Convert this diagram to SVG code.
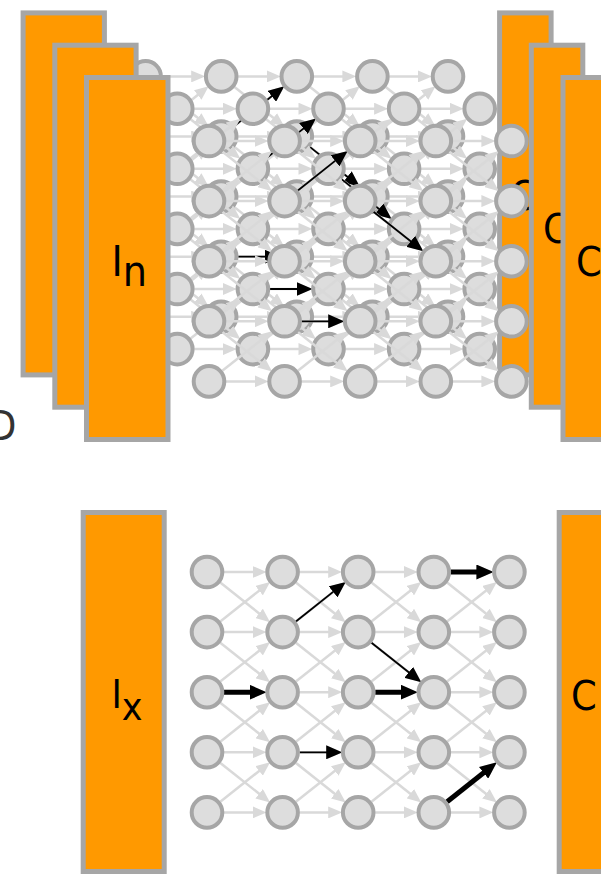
<svg xmlns="http://www.w3.org/2000/svg" width="601" height="874" viewBox="0 0 601 874">
<style>
.blk{fill:#ff9900;stroke:#a6a6a6;stroke-width:5}
.n circle{fill:#dddddd;stroke:#a6a6a6;stroke-width:4}
.t1{stroke:#000;stroke-width:1.8;marker-end:url(#mk);fill:none}
.t2{stroke:#000;stroke-width:5;marker-end:url(#mk2);fill:none}
.lbl{font-family:"DejaVu Sans","Liberation Sans",sans-serif;font-stretch:condensed;fill:#000}
</style>
<defs>
<marker id="mg" markerUnits="userSpaceOnUse" markerWidth="14" markerHeight="12" refX="8" refY="6" orient="auto"><path d="M0,0L14,6L0,12z" fill="#d9d9d9"/></marker>
<marker id="mk" markerUnits="userSpaceOnUse" markerWidth="16" markerHeight="14" refX="8" refY="7" orient="auto"><path d="M0,0L16,7L0,14z" fill="#000"/></marker>
<marker id="mk2" markerUnits="userSpaceOnUse" markerWidth="17" markerHeight="15" refX="9" refY="7.5" orient="auto"><path d="M0,0L17,7.5L0,15z" fill="#000"/></marker>
<g id="ce" stroke="#d9d9d9" stroke-width="2.5" marker-end="url(#mg)">
<line x1="17" y1="0" x2="53.6" y2="0"/>
<line x1="17" y1="60.1" x2="53.6" y2="60.1"/>
<line x1="17" y1="120.2" x2="53.6" y2="120.2"/>
<line x1="17" y1="180.3" x2="53.6" y2="180.3"/>
<line x1="17" y1="240.4" x2="53.6" y2="240.4"/>
<line x1="13.3" y1="10.6" x2="58.4" y2="46.4"/>
<line x1="13.3" y1="70.7" x2="58.4" y2="106.5"/>
<line x1="13.3" y1="130.8" x2="58.4" y2="166.6"/>
<line x1="13.3" y1="190.9" x2="58.4" y2="226.7"/>
<line x1="13.3" y1="49.5" x2="58.4" y2="13.7"/>
<line x1="13.3" y1="109.6" x2="58.4" y2="73.8"/>
<line x1="13.3" y1="169.7" x2="58.4" y2="133.9"/>
<line x1="13.3" y1="229.8" x2="58.4" y2="194"/>
</g>
<g id="le">
<use href="#ce"/>
<use href="#ce" x="75.6"/>
<use href="#ce" x="151.2"/>
<use href="#ce" x="226.8"/>
</g>
</defs>

<text class="lbl" x="-12" y="440" font-size="41" style="fill:#333">D</text>

<!-- back layer -->
<g id="layer-back">
<rect id="back-in" class="blk" x="23.1" y="12.9" width="81.3" height="362"/>
<g id="back-out"><rect class="blk" x="499.6" y="12.9" width="51.5" height="362"/><text class="lbl" x="510" y="210" font-size="41">C</text></g>
<g transform="translate(145.6,76.4)">
<use href="#le"/>
<g id="back-connectors">
<line class="t1" x1="88.9" y1="49.5" x2="132.4" y2="14.9"/>
<line class="t1" x1="92.6" y1="180.3" x2="127.2" y2="180.3"/>
<line class="t1" x1="164.5" y1="70.7" x2="208" y2="105.3"/>
</g>
<g class="n">
<g id="k00"><circle cx="0" cy="0" r="15.3"/></g><g id="k01"><circle cx="0" cy="60.1" r="15.3"/></g><g id="k02"><circle cx="0" cy="120.2" r="15.3"/></g><g id="k03"><circle cx="0" cy="180.3" r="15.3"/></g><g id="k04"><circle cx="0" cy="240.4" r="15.3"/></g>
<g id="k10"><circle cx="75.6" cy="0" r="15.3"/></g><g id="k11"><circle cx="75.6" cy="60.1" r="15.3"/></g><g id="k12"><circle cx="75.6" cy="120.2" r="15.3"/></g><g id="k13"><circle cx="75.6" cy="180.3" r="15.3"/></g><g id="k14"><circle cx="75.6" cy="240.4" r="15.3"/></g>
<g id="k20"><circle cx="151.2" cy="0" r="15.3"/></g><g id="k21"><circle cx="151.2" cy="60.1" r="15.3"/></g><g id="k22"><circle cx="151.2" cy="120.2" r="15.3"/></g><g id="k23"><circle cx="151.2" cy="180.3" r="15.3"/></g><g id="k24"><circle cx="151.2" cy="240.4" r="15.3"/></g>
<g id="k30"><circle cx="226.8" cy="0" r="15.3"/></g><g id="k31"><circle cx="226.8" cy="60.1" r="15.3"/></g><g id="k32"><circle cx="226.8" cy="120.2" r="15.3"/></g><g id="k33"><circle cx="226.8" cy="180.3" r="15.3"/></g><g id="k34"><circle cx="226.8" cy="240.4" r="15.3"/></g>
<g id="k40"><circle cx="302.4" cy="0" r="15.3"/></g><g id="k41"><circle cx="302.4" cy="60.1" r="15.3"/></g><g id="k42"><circle cx="302.4" cy="120.2" r="15.3"/></g><g id="k43"><circle cx="302.4" cy="180.3" r="15.3"/></g><g id="k44"><circle cx="302.4" cy="240.4" r="15.3"/></g>
</g>
</g>
</g>

<!-- middle layer -->
<g id="layer-middle">
<rect id="mid-in" class="blk" x="54.8" y="45.2" width="81.3" height="362"/>
<g id="mid-out"><rect class="blk" x="531.3" y="45.2" width="51.5" height="362"/><text class="lbl" x="543" y="243" font-size="41">C</text></g>
<g transform="translate(177.3,108.7)">
<use href="#le"/>
<g id="mid-connectors">
<line class="t1" x1="88.9" y1="49.5" x2="132.4" y2="14.9"/>
<line class="t1" x1="92.6" y1="180.3" x2="127.2" y2="180.3"/>
<line class="t1" x1="164.5" y1="70.7" x2="208" y2="105.3"/>
</g>
<g class="n">
<g id="m00"><circle cx="0" cy="0" r="15.3"/></g><g id="m01"><circle cx="0" cy="60.1" r="15.3"/></g><g id="m02"><circle cx="0" cy="120.2" r="15.3"/></g><g id="m03"><circle cx="0" cy="180.3" r="15.3"/></g><g id="m04"><circle cx="0" cy="240.4" r="15.3"/></g>
<g id="m10"><circle cx="75.6" cy="0" r="15.3"/></g><g id="m11"><circle cx="75.6" cy="60.1" r="15.3"/></g><g id="m12"><circle cx="75.6" cy="120.2" r="15.3"/></g><g id="m13"><circle cx="75.6" cy="180.3" r="15.3"/></g><g id="m14"><circle cx="75.6" cy="240.4" r="15.3"/></g>
<g id="m20"><circle cx="151.2" cy="0" r="15.3"/></g><g id="m21"><circle cx="151.2" cy="60.1" r="15.3"/></g><g id="m22"><circle cx="151.2" cy="120.2" r="15.3"/></g><g id="m23"><circle cx="151.2" cy="180.3" r="15.3"/></g><g id="m24"><circle cx="151.2" cy="240.4" r="15.3"/></g>
<g id="m30"><circle cx="226.8" cy="0" r="15.3"/></g><g id="m31"><circle cx="226.8" cy="60.1" r="15.3"/></g><g id="m32"><circle cx="226.8" cy="120.2" r="15.3"/></g><g id="m33"><circle cx="226.8" cy="180.3" r="15.3"/></g><g id="m34"><circle cx="226.8" cy="240.4" r="15.3"/></g>
<g id="m40"><circle cx="302.4" cy="0" r="15.3"/></g><g id="m41"><circle cx="302.4" cy="60.1" r="15.3"/></g><g id="m42"><circle cx="302.4" cy="120.2" r="15.3"/></g><g id="m43"><circle cx="302.4" cy="180.3" r="15.3"/></g><g id="m44"><circle cx="302.4" cy="240.4" r="15.3"/></g>
</g>
</g>
</g>

<!-- front layer -->
<g id="layer-front">
<g id="front-in"><rect class="blk" x="86.5" y="77.5" width="81.5" height="362"/><text class="lbl" x="111.5" y="276" font-size="42.5">I<tspan dy="10">n</tspan></text></g>
<g id="front-out"><rect class="blk" x="563" y="77.5" width="51.5" height="362"/><text class="lbl" x="576" y="276" font-size="41">C</text></g>
<g transform="translate(209,141)">
<use href="#le"/>
<g id="front-connectors">
<line class="t1" x1="88.9" y1="49.5" x2="132.4" y2="14.9"/>
<line class="t1" x1="92.6" y1="180.3" x2="127.2" y2="180.3"/>
<line class="t1" x1="164.5" y1="70.7" x2="208" y2="105.3"/>
</g>
<g class="n">
<g id="f00"><circle cx="0" cy="0" r="15.3"/></g><g id="f01"><circle cx="0" cy="60.1" r="15.3"/></g><g id="f02"><circle cx="0" cy="120.2" r="15.3"/></g><g id="f03"><circle cx="0" cy="180.3" r="15.3"/></g><g id="f04"><circle cx="0" cy="240.4" r="15.3"/></g>
<g id="f10"><circle cx="75.6" cy="0" r="15.3"/></g><g id="f11"><circle cx="75.6" cy="60.1" r="15.3"/></g><g id="f12"><circle cx="75.6" cy="120.2" r="15.3"/></g><g id="f13"><circle cx="75.6" cy="180.3" r="15.3"/></g><g id="f14"><circle cx="75.6" cy="240.4" r="15.3"/></g>
<g id="f20"><circle cx="151.2" cy="0" r="15.3"/></g><g id="f21"><circle cx="151.2" cy="60.1" r="15.3"/></g><g id="f22"><circle cx="151.2" cy="120.2" r="15.3"/></g><g id="f23"><circle cx="151.2" cy="180.3" r="15.3"/></g><g id="f24"><circle cx="151.2" cy="240.4" r="15.3"/></g>
<g id="f30"><circle cx="226.8" cy="0" r="15.3"/></g><g id="f31"><circle cx="226.8" cy="60.1" r="15.3"/></g><g id="f32"><circle cx="226.8" cy="120.2" r="15.3"/></g><g id="f33"><circle cx="226.8" cy="180.3" r="15.3"/></g><g id="f34"><circle cx="226.8" cy="240.4" r="15.3"/></g>
<g id="f40"><circle cx="302.4" cy="0" r="15.3"/></g><g id="f41"><circle cx="302.4" cy="60.1" r="15.3"/></g><g id="f42"><circle cx="302.4" cy="120.2" r="15.3"/></g><g id="f43"><circle cx="302.4" cy="180.3" r="15.3"/></g><g id="f44"><circle cx="302.4" cy="240.4" r="15.3"/></g>
</g>
</g>
</g>

<!-- bottom -->
<g id="layer-bottom">
<g id="ix"><rect class="blk" x="83.2" y="512.5" width="81" height="359"/><text class="lbl" x="111.5" y="708.3" font-size="39">I<tspan dy="11.7">x</tspan></text></g>
<g id="cx"><rect class="blk" x="559.2" y="512.5" width="51.5" height="359"/><text class="lbl" x="571" y="710" font-size="41">C</text></g>
<g transform="translate(207,572)">
<use href="#le"/>
<g id="bottom-connectors">
<line class="t2" x1="17" y1="120.2" x2="51.6" y2="120.2"/>
<line class="t1" x1="88.9" y1="49.5" x2="132.4" y2="14.9"/>
<line class="t1" x1="92.6" y1="180.3" x2="127.2" y2="180.3"/>
<line class="t1" x1="164.5" y1="70.7" x2="208" y2="105.3"/>
<line class="t2" x1="168.2" y1="120.2" x2="202.8" y2="120.2"/>
<line class="t2" x1="243.8" y1="0" x2="278.4" y2="0"/>
<line class="t2" x1="240.1" y1="229.8" x2="283.6" y2="195.2"/>
</g>
<g class="n">
<g id="x00"><circle cx="0" cy="0" r="15.3"/></g><g id="x01"><circle cx="0" cy="60.1" r="15.3"/></g><g id="x02"><circle cx="0" cy="120.2" r="15.3"/></g><g id="x03"><circle cx="0" cy="180.3" r="15.3"/></g><g id="x04"><circle cx="0" cy="240.4" r="15.3"/></g>
<g id="x10"><circle cx="75.6" cy="0" r="15.3"/></g><g id="x11"><circle cx="75.6" cy="60.1" r="15.3"/></g><g id="x12"><circle cx="75.6" cy="120.2" r="15.3"/></g><g id="x13"><circle cx="75.6" cy="180.3" r="15.3"/></g><g id="x14"><circle cx="75.6" cy="240.4" r="15.3"/></g>
<g id="x20"><circle cx="151.2" cy="0" r="15.3"/></g><g id="x21"><circle cx="151.2" cy="60.1" r="15.3"/></g><g id="x22"><circle cx="151.2" cy="120.2" r="15.3"/></g><g id="x23"><circle cx="151.2" cy="180.3" r="15.3"/></g><g id="x24"><circle cx="151.2" cy="240.4" r="15.3"/></g>
<g id="x30"><circle cx="226.8" cy="0" r="15.3"/></g><g id="x31"><circle cx="226.8" cy="60.1" r="15.3"/></g><g id="x32"><circle cx="226.8" cy="120.2" r="15.3"/></g><g id="x33"><circle cx="226.8" cy="180.3" r="15.3"/></g><g id="x34"><circle cx="226.8" cy="240.4" r="15.3"/></g>
<g id="x40"><circle cx="302.4" cy="0" r="15.3"/></g><g id="x41"><circle cx="302.4" cy="60.1" r="15.3"/></g><g id="x42"><circle cx="302.4" cy="120.2" r="15.3"/></g><g id="x43"><circle cx="302.4" cy="180.3" r="15.3"/></g><g id="x44"><circle cx="302.4" cy="240.4" r="15.3"/></g>
</g>
</g>
</g>
</svg>
